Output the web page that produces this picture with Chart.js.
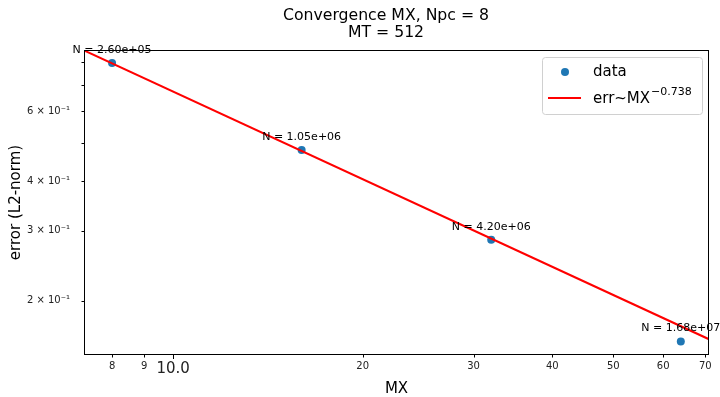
<!DOCTYPE html>
<html>
<head>
<meta charset="utf-8">
<script src="https://cdn.jsdelivr.net/npm/chart.js@4"></script>
<style>
  html, body { margin: 0; padding: 0; background: #fff; }
  canvas { display: block; }
</style>
</head>
<body>
<canvas id="convChart" width="720" height="397"></canvas>
<script>
// data
const mx = [8, 16, 32, 64];
const err = [0.795, 0.480, 0.285, 0.158];
const nLabels = ['N = 2.60e+05', 'N = 1.05e+06', 'N = 4.20e+06', 'N = 1.68e+07'];

// fitted power-law line, endpoints at the axis limits
const fitX = [7.22, 70.95];
const fitY = [0.855, 0.160];

const xTickVals = [8, 9, 10, 20, 30, 40, 50, 60, 70];
const xTickLabels = ['8', '9', '10.0', '20', '30', '40', '50', '60', '70'];
const yTickVals = [0.2, 0.3, 0.4, 0.5, 0.6, 0.7, 0.8];
const yTickLabels = ['2 × 10⁻¹', '3 × 10⁻¹', '4 × 10⁻¹', '', '6 × 10⁻¹', '', ''];

const xMin = 7.22, xMax = 70.95;
const yMin = 0.146, yMax = 0.857;

Chart.defaults.font.family = 'DejaVu Sans';
Chart.defaults.color = '#000';

const extras = {
    id: 'extras',
    afterDraw(chart) {
        const { ctx, chartArea: a } = chart;
        const xs = chart.scales.x, ys = chart.scales.y;
        ctx.save();

        // frame
        ctx.strokeStyle = '#000';
        ctx.lineWidth = 1;
        ctx.strokeRect(a.left + 0.5, a.top + 0.5, a.right - a.left - 1, a.bottom - a.top - 1);

        // tick marks
        xTickVals.forEach(v => {
            const px = Math.round(xs.getPixelForValue(v)) + 0.5;
            const len = v === 10 ? 4 : 2.5;
            ctx.beginPath();
            ctx.moveTo(px, a.bottom);
            ctx.lineTo(px, a.bottom + len);
            ctx.stroke();
        });
        yTickVals.forEach(v => {
            const py = Math.round(ys.getPixelForValue(v)) + 0.5;
            ctx.beginPath();
            ctx.moveTo(a.left, py);
            ctx.lineTo(a.left - 2.5, py);
            ctx.stroke();
        });

        // title
        ctx.fillStyle = '#000';
        ctx.textAlign = 'center';
        ctx.textBaseline = 'middle';
        ctx.font = '15.7px "DejaVu Sans"';
        ctx.fillText('Convergence MX, Npc = 8', 386, 16);
        ctx.fillText('MT = 512', 386, 33);

        // axis titles
        ctx.font = '15px "DejaVu Sans"';
        ctx.fillText('MX', (a.left + a.right) / 2, 389);
        ctx.save();
        ctx.translate(16, (a.top + a.bottom) / 2);
        ctx.rotate(-Math.PI / 2);
        ctx.fillText('error (L2-norm)', 0, 0);
        ctx.restore();

        // point annotations
        ctx.font = '11px "DejaVu Sans"';
        mx.forEach((v, i) => {
            const px = xs.getPixelForValue(v);
            const py = ys.getPixelForValue(err[i]);
            ctx.fillText(nLabels[i], px, py - 13);
        });

        // legend
        const lx = 542, ly = 57, lw = 160, lh = 57;
        ctx.beginPath();
        ctx.roundRect(lx + 0.5, ly + 0.5, lw, lh, 3);
        ctx.fillStyle = 'rgba(255,255,255,0.8)';
        ctx.fill();
        ctx.strokeStyle = '#d0d0d0';
        ctx.stroke();

        ctx.fillStyle = '#1f77b4';
        ctx.beginPath();
        ctx.arc(565, 72, 4, 0, Math.PI * 2);
        ctx.fill();

        ctx.strokeStyle = '#ff0000';
        ctx.lineWidth = 2;
        ctx.beginPath();
        ctx.moveTo(548, 98);
        ctx.lineTo(581, 98);
        ctx.stroke();

        ctx.fillStyle = '#000';
        ctx.textAlign = 'left';
        ctx.font = '15px "DejaVu Sans"';
        ctx.fillText('data', 593, 72);
        ctx.fillText('err~MX', 593, 99);
        const w = ctx.measureText('err~MX').width;
        ctx.font = '11px "DejaVu Sans"';
        ctx.fillText('−0.738', 593 + w + 1, 92);

        ctx.restore();
    }
};

new Chart(document.getElementById('convChart'), {
    type: 'scatter',
    data: {
        datasets: [
            {
                type: 'line',
                label: 'fit',
                data: fitX.map((v, i) => ({ x: v, y: fitY[i] })),
                borderColor: '#ff0000',
                borderWidth: 2,
                pointRadius: 0,
                fill: false,
                order: 0
            },
            {
                label: 'data',
                data: mx.map((v, i) => ({ x: v, y: err[i] })),
                backgroundColor: '#1f77b4',
                borderWidth: 0,
                pointRadius: 4,
                order: 1
            }
        ]
    },
    options: {
        responsive: false,
        animation: false,
        devicePixelRatio: 1,
        layout: { padding: { top: 50, right: 11, left: 0, bottom: 0 } },
        plugins: {
            legend: { display: false },
            tooltip: { enabled: false }
        },
        scales: {
            x: {
                type: 'logarithmic',
                min: xMin,
                max: xMax,
                grid: { display: false },
                border: { display: false },
                afterBuildTicks: s => { s.ticks = xTickVals.map(v => ({ value: v })); },
                afterFit: s => { s.height = 42; },
                ticks: {
                    autoSkip: false,
                    maxRotation: 0,
                    padding: -3,
                    color: '#222',
                    font: c => (c.tick && c.tick.value === 10) ? { size: 15 } : { size: 10 },
                    callback: (v, i) => xTickLabels[i]
                }
            },
            y: {
                type: 'logarithmic',
                min: yMin,
                max: yMax,
                grid: { display: false },
                border: { display: false },
                afterBuildTicks: s => { s.ticks = yTickVals.map(v => ({ value: v })); },
                afterFit: s => { s.width = 84; },
                ticks: {
                    autoSkip: false,
                    padding: 6,
                    color: '#222',
                    font: { size: 10 },
                    callback: (v, i) => yTickLabels[i]
                }
            }
        }
    },
    plugins: [extras]
});
</script>
</body>
</html>
